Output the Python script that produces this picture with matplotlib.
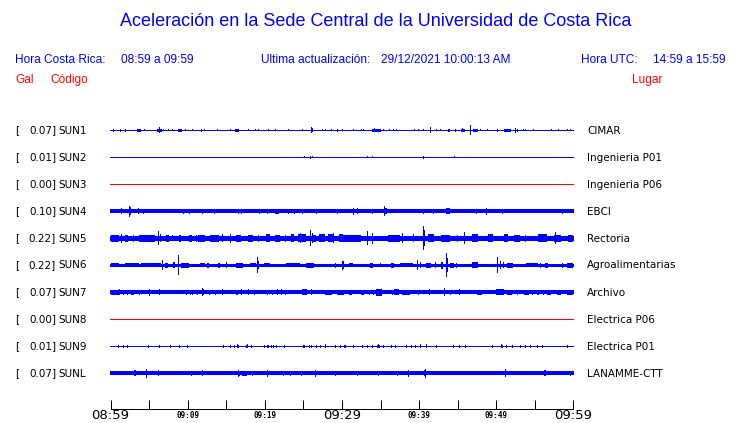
import matplotlib
matplotlib.use("Agg")
import matplotlib.pyplot as plt

# ---------------- data ----------------
codes = ["SUN1", "SUN2", "SUN3", "SUN4", "SUN5", "SUN6", "SUN7", "SUN8", "SUN9", "SUNL"]
places = ["CIMAR", "Ingenieria P01", "Ingenieria P06", "EBCI", "Rectoria",
          "Agroalimentarias", "Archivo", "Electrica P06", "Electrica P01", "LANAMME-CTT"]
peak_gal = [0.07, 0.01, 0.00, 0.10, 0.22, 0.22, 0.07, 0.00, 0.01, 0.07]
# stations with no data drawn in red
active = [True, True, False, True, True, True, True, False, True, True]
# background noise half-amplitude (display units)
noise_level = [0.5, 0.5, 0.5, 2.0, 2.5, 1.5, 2.0, 0.5, 0.5, 2.0]

tick_minutes = list(range(0, 61, 5))
tick_labels = {0: "08:59", 10: "09:09", 20: "09:19", 30: "09:29", 40: "09:39", 50: "09:49", 60: "09:59"}
major_labels = ["08:59", "09:29", "09:59"]

# spikes: (minute after 08:59, half amplitude)
sun1_spikes = [(0.39, 1.3), (1.30, 1.3), (1.94, 1.3), (4.41, 1.2), (6.35, 2.8), (6.87, 1.2), (7.52, 1.2),
               (8.04, 1.2), (9.72, 1.2), (10.63, 1.1), (11.79, 1.5), (12.18, 1.2), (13.87, 1.1), (15.55, 1.2),
               (17.88, 1.2), (18.79, 1.2), (19.18, 1.2), (20.48, 1.2), (21.38, 1.1), (23.07, 1.1), (24.88, 1.2),
               (26.05, 3.2), (26.18, 2.0), (27.48, 1.2), (27.86, 1.2), (28.64, 1.2), (29.42, 1.5), (30.07, 1.2),
               (31.49, 1.2), (32.53, 1.1), (32.79, 1.2), (34.21, 2.0), (35.38, 1.2), (36.16, 1.2), (36.68, 1.2),
               (37.07, 1.2), (39.40, 1.2), (39.92, 1.2), (40.56, 1.2), (41.41, 3.0), (42.25, 1.2), (42.77, 1.2),
               (44.71, 1.5), (45.62, 2.0), (46.65, 5.0), (47.95, 1.2), (48.86, 1.2), (50.15, 1.5), (52.49, 2.5),
               (52.75, 1.5), (53.52, 1.2), (53.78, 1.2), (54.82, 1.2), (57.15, 1.2), (58.06, 1.1), (59.23, 1.2),
               (59.61, 1.2)]
sun1_bursts = [(3.37, 3.89, 1.3), (6.09, 6.61, 1.6), (8.81, 9.33, 1.6), (16.07, 16.59, 1.3), (33.95, 34.99, 1.4),
               (43.80, 44.06, 1.3), (45.36, 45.88, 1.4), (47.04, 47.56, 1.5), (50.93, 51.84, 1.4)]

sun2_spikes = [(25.14, 1.1), (25.92, 1.5), (26.18, 1.2), (33.31, 1.1), (33.95, 1.2), (40.56, 1.5), (44.58, 1.1)]
sun2_bursts = []

sun3_spikes = []
sun3_bursts = []

sun4_spikes = [(1.43, 3.0), (2.46, 5.5), (2.59, 4.0), (3.63, 3.0), (4.28, 2.5), (9.46, 2.5), (10.24, 2.5),
               (11.92, 2.5), (13.48, 2.5), (16.59, 2.5), (16.98, 2.5), (19.31, 2.5), (20.35, 2.5), (23.07, 2.5),
               (23.85, 2.5), (24.88, 2.5), (26.70, 2.5), (29.42, 2.5), (31.49, 3.5), (32.01, 3.0), (33.95, 2.5),
               (35.51, 5.0), (40.56, 2.5), (41.86, 2.5), (47.43, 2.5), (48.73, 3.5), (50.80, 2.5), (58.58, 2.5)]
sun4_bursts = [(21.38, 21.90, 2.5), (35.38, 35.77, 3.0), (43.54, 44.06, 3.0)]

sun5_spikes = [(1.43, 4.5), (2.98, 3.5), (6.22, 7.0), (6.48, 4.0), (8.04, 3.0), (11.15, 3.5), (15.55, 4.5),
               (19.18, 3.5), (22.68, 3.5), (24.62, 5.0), (25.92, 8.0), (26.18, 5.0), (28.90, 5.0), (33.31, 7.0),
               (33.95, 5.5), (37.84, 5.0), (39.27, 4.0), (40.56, 12.0), (40.69, 8.0), (44.97, 3.5), (45.88, 6.0),
               (53.78, 3.5), (57.67, 6.0)]
sun5_bursts = [(0.00, 1.04, 3.5), (1.94, 2.33, 3.5), (3.63, 4.80, 3.5), (4.92, 5.83, 3.5), (7.13, 7.52, 3.5),
               (8.94, 9.20, 3.5), (10.11, 10.50, 3.5), (11.40, 12.31, 3.5), (12.83, 14.00, 3.5), (14.39, 14.64, 4.0),
               (16.20, 16.85, 3.5), (17.88, 18.53, 3.5), (20.09, 20.73, 4.0), (21.38, 22.03, 3.5), (23.33, 23.72, 4.0),
               (24.24, 25.27, 4.0), (26.18, 26.57, 3.5), (26.96, 27.86, 4.0), (28.25, 28.90, 4.0), (29.55, 30.19, 4.0),
               (30.19, 32.40, 3.5), (35.90, 37.58, 3.5), (41.08, 41.86, 4.0), (42.77, 44.06, 3.5), (46.91, 47.56, 4.0),
               (48.86, 49.63, 4.0), (50.93, 51.45, 4.0), (52.23, 53.13, 3.5), (55.34, 56.63, 4.0), (57.41, 58.32, 3.5),
               (59.23, 60.00, 3.5)]

sun6_spikes = [(6.70, 5.0), (8.85, 10.0), (14.99, 3.0), (19.01, 8.0), (19.14, 4.0), (29.16, 2.5), (30.11, 4.5),
               (30.16, 4.0), (34.99, 2.0), (39.82, 5.0), (40.17, 3.0), (42.12, 3.0), (43.54, 12.0), (43.71, 7.0),
               (44.84, 2.5), (50.11, 8.0), (50.54, 4.0), (50.89, 3.0), (55.72, 2.5), (58.54, 2.5)]
sun6_bursts = [(0.00, 1.08, 2.0), (1.94, 3.63, 2.0), (3.89, 6.48, 2.0), (7.00, 7.39, 2.5), (8.04, 8.42, 3.0),
               (9.20, 10.11, 2.5), (11.66, 12.31, 2.0), (12.57, 12.70, 2.5), (13.87, 14.25, 2.5), (16.20, 17.11, 2.5),
               (18.14, 18.92, 2.0), (19.83, 20.73, 2.0), (22.68, 24.62, 2.0), (25.27, 26.31, 2.5), (30.97, 31.49, 2.0),
               (33.69, 34.08, 2.5), (36.29, 36.68, 2.5), (37.58, 39.14, 2.0), (40.95, 41.47, 2.5), (42.77, 43.15, 3.5),
               (44.06, 44.45, 2.5), (46.91, 47.56, 3.0), (51.32, 52.10, 2.5), (53.78, 55.34, 2.0), (56.37, 56.76, 2.5),
               (59.10, 60.00, 2.5)]

sun7_spikes = [(1.17, 3.0), (1.73, 2.5), (2.17, 2.5), (3.76, 2.5), (5.09, 3.5), (6.31, 3.0), (9.80, 2.5),
               (10.37, 2.5), (10.67, 2.5), (11.24, 2.5), (11.88, 4.0), (12.09, 3.0), (12.87, 2.5), (13.61, 2.5),
               (14.47, 3.0), (16.98, 3.0), (17.93, 3.0), (18.70, 2.5), (20.31, 2.5), (21.60, 3.0), (22.16, 3.0),
               (22.68, 2.5), (26.05, 3.0), (33.61, 2.5), (34.04, 2.5), (36.51, 2.5), (39.96, 2.5), (41.38, 3.0),
               (43.32, 4.0), (44.06, 2.5), (45.27, 3.0), (52.71, 2.5), (54.65, 2.5), (55.30, 2.5), (55.51, 2.5),
               (56.15, 2.5)]
sun7_bursts = [(0.00, 1.08, 2.5), (2.72, 3.02, 2.5), (16.20, 16.55, 2.5), (20.95, 21.08, 2.5), (24.84, 25.49, 3.0),
               (27.86, 28.73, 2.5), (29.38, 30.24, 2.5), (30.97, 31.27, 2.5), (32.40, 32.83, 2.5), (34.47, 35.21, 3.5),
               (36.73, 37.37, 3.0), (37.80, 38.79, 2.5), (47.52, 48.17, 2.5), (50.02, 50.97, 3.0), (51.41, 52.06, 2.5),
               (53.56, 54.21, 2.5), (56.58, 57.02, 2.5), (57.89, 58.32, 2.5), (59.10, 60.00, 2.5)]

sun8_spikes = []
sun8_bursts = []

sun9_spikes = [(1.00, 1.5), (1.72, 1.5), (2.16, 1.5), (4.96, 1.5), (6.35, 1.5), (7.78, 1.5), (8.98, 1.5),
               (9.94, 1.5), (14.68, 1.5), (15.55, 1.5), (16.11, 1.5), (16.52, 2.0), (17.72, 2.0), (18.27, 1.5),
               (20.00, 1.5), (20.31, 1.5), (20.52, 1.5), (20.83, 1.5), (21.09, 1.5), (21.51, 1.5), (22.59, 1.5),
               (24.97, 1.5), (25.18, 1.5), (25.79, 1.5), (26.05, 1.5), (26.66, 1.5), (27.21, 1.5), (27.86, 2.0),
               (29.16, 1.5), (29.81, 1.5), (30.33, 1.5), (30.45, 1.5), (31.53, 1.5), (32.62, 1.5), (33.27, 1.5),
               (33.91, 1.5), (34.77, 2.0), (35.42, 1.5), (36.38, 1.5), (36.93, 1.5), (38.36, 1.5), (38.97, 1.5),
               (39.53, 1.5), (40.17, 2.0), (40.95, 2.0), (42.25, 1.5), (44.49, 1.5), (45.27, 1.5), (46.00, 1.5),
               (49.47, 1.5), (50.71, 2.0), (51.32, 1.5), (52.06, 1.5), (53.13, 1.5), (53.78, 1.5), (54.43, 1.5),
               (55.30, 1.5), (55.95, 1.5), (59.19, 1.5)]
sun9_bursts = [(16.40, 16.65, 1.5), (17.60, 17.85, 1.5), (34.60, 34.90, 1.5), (40.10, 40.30, 1.5), (50.55, 50.90, 1.5)]

sunl_spikes = [(4.63, 4.5), (6.26, 3.0), (10.50, 2.5), (11.88, 3.0), (16.55, 3.5), (16.72, 2.5), (18.36, 2.5),
               (20.31, 3.5), (22.46, 2.5), (23.33, 2.5), (24.75, 2.5), (26.57, 3.5), (29.16, 2.5), (31.97, 2.5),
               (34.73, 2.5), (37.15, 2.5), (38.66, 3.5), (40.82, 4.5), (51.19, 4.0), (59.61, 2.5)]
sunl_bursts = [(3.00, 3.30, 3.0), (17.07, 17.72, 2.5), (40.60, 40.95, 3.0), (56.20, 56.45, 3.0)]

all_spikes = [sun1_spikes, sun2_spikes, sun3_spikes, sun4_spikes, sun5_spikes,
              sun6_spikes, sun7_spikes, sun8_spikes, sun9_spikes, sunl_spikes]
all_bursts = [sun1_bursts, sun2_bursts, sun3_bursts, sun4_bursts, sun5_bursts,
              sun6_bursts, sun7_bursts, sun8_bursts, sun9_bursts, sunl_bursts]

# ---------------- figure ----------------
W, H = 740, 423
fig = plt.figure(figsize=(W / 100, H / 100), dpi=100)
fig.patch.set_facecolor("white")

BLUE = "#0000ff"
RED = "#ff0000"
PX = 0.72  # one pixel in points

def fx(px):
    return px / W

def fy(py):
    return 1 - py / H

# axes in pixel geometry; data units: minutes (x) and pixels (y), integer = pixel centre
ax_left, ax_width = 110, 464
ax_top, ax_bottom = 112, 409
ax = fig.add_axes([fx(ax_left), fy(ax_bottom), ax_width / W, (ax_bottom - ax_top) / H])
mpp = 60 / (ax_width - 1)          # minutes per pixel
ax.set_xlim(-mpp / 2, 60 + mpp / 2)
ax.set_ylim(-0.5, ax_bottom - ax_top - 0.5)

first_base = ax_bottom - 130 - 1 + 0.25  # SUN1 around pixel row 130
spacing = 27

for i in range(len(codes)):
    b = first_base - spacing * i
    col = BLUE if active[i] else RED
    h = noise_level[i]
    ax.fill_between([0 - mpp / 2, 60 + mpp / 2], b - h, b + h, color=col, lw=0, antialiased=False)
    for (t0, t1, a) in all_bursts[i]:
        ax.fill_between([t0, t1], b - a, b + a, color=col, lw=0, antialiased=False)
    if all_spikes[i]:
        ts = [s[0] for s in all_spikes[i]]
        amps = [s[1] for s in all_spikes[i]]
        ax.bar(ts, [2 * a for a in amps], bottom=[b - a for a in amps], width=mpp,
               color=col, lw=0, antialiased=False)

    ypos = fy(130.5 + spacing * i)
    fig.text(fx(15), ypos, "[", fontsize=7.5, family="DejaVu Sans", va="center", ha="left")
    fig.text(fx(56), ypos, f"{peak_gal[i]:.2f}]", fontsize=7.5, family="DejaVu Sans", va="center", ha="right")
    fig.text(fx(58), ypos, codes[i], fontsize=7.5, family="DejaVu Sans", va="center", ha="left")
    fig.text(fx(587), ypos, places[i], fontsize=7.5, family="DejaVu Sans", va="center", ha="left")

# axis
for s in ["top", "left", "right"]:
    ax.spines[s].set_visible(False)
ax.spines["bottom"].set_position(("data", 0))
ax.spines["bottom"].set_linewidth(PX)
ax.spines["bottom"].set_bounds(0, 60)
ax.set_yticks([])
ax.set_xticks(tick_minutes)
ax.set_xticklabels([])
ax.tick_params(axis="x", direction="in", length=6.5, width=PX, color="black")
ax.set_facecolor("none")

for m, lab in tick_labels.items():
    if lab in major_labels:
        ax.text(m, -7, lab, fontsize=9.5, family="DejaVu Sans", ha="center", va="center", clip_on=False)
    else:
        ax.text(m, -7, lab, fontsize=5.5, family="DejaVu Sans Mono", weight="bold",
                ha="center", va="center", clip_on=False)

# header texts
hf = "Liberation Sans"
hs = 8.6
fig.text(fx(376), fy(22), "Aceleración en la Sede Central de la Universidad de Costa Rica",
         fontsize=13, family=hf, color=BLUE, ha="center", va="center")
fig.text(fx(15), fy(60), "Hora Costa Rica:", fontsize=hs, family=hf, color=BLUE, va="center")
fig.text(fx(121), fy(60), "08:59 a 09:59", fontsize=hs, family=hf, color=BLUE, va="center")
fig.text(fx(261), fy(60), "Ultima actualización:", fontsize=hs, family=hf, color=BLUE, va="center")
fig.text(fx(381), fy(60), "29/12/2021 10:00:13 AM", fontsize=hs, family=hf, color=BLUE, va="center")
fig.text(fx(581), fy(60), "Hora UTC:", fontsize=hs, family=hf, color=BLUE, va="center")
fig.text(fx(726), fy(60), "14:59 a 15:59", fontsize=hs, family=hf, color=BLUE, va="center", ha="right")
fig.text(fx(15), fy(80), "Gal", fontsize=hs, family=hf, color=RED, va="center")
fig.text(fx(50), fy(80), "Código", fontsize=hs, family=hf, color=RED, va="center")
fig.text(fx(662), fy(80), "Lugar", fontsize=hs, family=hf, color=RED, va="center", ha="right")

fig.savefig("out.png", dpi=100, facecolor="white")
